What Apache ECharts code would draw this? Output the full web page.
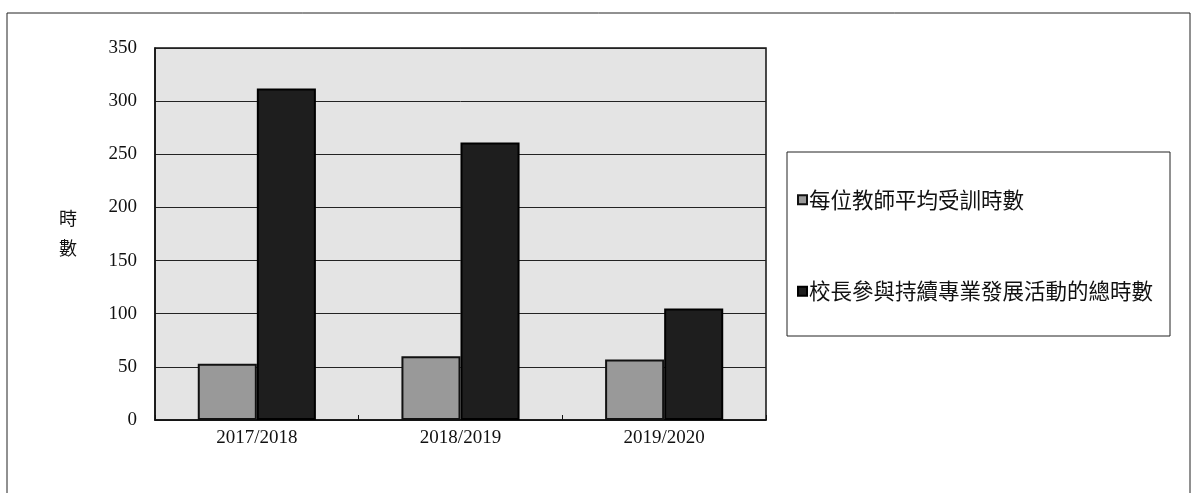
<!DOCTYPE html>
<html><head><meta charset="utf-8">
<script src="https://cdn.jsdelivr.net/npm/echarts@6/dist/echarts.min.js"></script>
<style>html,body{margin:0;padding:0;background:#fff}#c{width:1198px;height:493px}</style>
</head><body><div id="c"></div>
<script>
const categories = ['2017/2018', '2018/2019', '2019/2020'];
const seriesNames = ['每位教師平均受訓時數', '校長參與持續專業發展活動的總時數'];
const teacherHours = [53, 60, 57];
const principalHours = [312, 261, 105];
const yTicks = {min: 0, max: 350, interval: 50};
const yAxisTitle = '時\n數';

const chart = echarts.init(document.getElementById('c'), null, {renderer: 'canvas'});
const serif = '"Liberation Serif", "DejaVu Serif", serif';
const cjk = '"Noto Sans CJK TC", "Noto Sans CJK SC", sans-serif';
chart.setOption({
  animation: false,
  backgroundColor: '#fff',
  graphic: [
    {type: 'rect', shape: {x: 7, y: 13, width: 1183, height: 500}, style: {fill: 'none', stroke: '#222', lineWidth: 1}, z: -1},
    {type: 'rect', shape: {x: 787, y: 152, width: 383, height: 184}, style: {fill: '#fff', stroke: '#222', lineWidth: 1}, z: 0},
    {type: 'text', left: 59, top: 203, style: {text: yAxisTitle, font: '18px ' + cjk, fill: '#111', lineHeight: 30}}
  ],
  grid: {left: 155, right: 432, top: 48, bottom: 73, show: true, backgroundColor: '#e4e4e4', borderColor: '#111', borderWidth: 1.5},
  legend: {
    orient: 'vertical', left: 792, top: 184, itemGap: 70,
    icon: 'rect', itemWidth: 9, itemHeight: 9,
    textStyle: {fontFamily: cjk, fontSize: 21.5, color: '#111', padding: [0, 0, 0, -3]},
    data: seriesNames
  },
  xAxis: {
    type: 'category', data: categories,
    axisLine: {lineStyle: {color: '#111', width: 1.5}},
    axisTick: {show: true, inside: true, length: 5, lineStyle: {color: '#111'}},
    axisLabel: {fontFamily: serif, fontSize: 19, color: '#111', margin: 9}
  },
  yAxis: {
    type: 'value', min: yTicks.min, max: yTicks.max, interval: yTicks.interval,
    axisLine: {show: true, lineStyle: {color: '#111', width: 1.5}},
    axisTick: {show: false},
    axisLabel: {fontFamily: serif, fontSize: 19, color: '#111', margin: 18},
    splitLine: {lineStyle: {color: '#222', width: 1}}
  },
  series: [
    {name: seriesNames[0], type: 'bar', data: teacherHours, barGap: '0%', barCategoryGap: '42%',
     itemStyle: {color: '#999999', borderColor: '#111', borderWidth: 2}},
    {name: seriesNames[1], type: 'bar', data: principalHours,
     itemStyle: {color: '#1e1e1e', borderColor: '#000', borderWidth: 2}}
  ]
});
</script></body></html>
